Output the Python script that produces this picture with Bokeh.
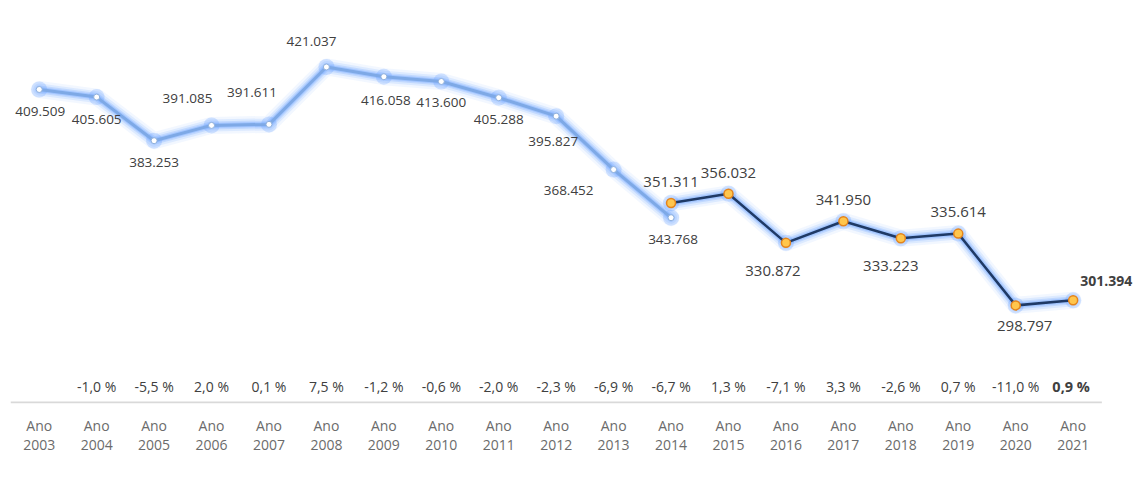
from bokeh.plotting import figure
from bokeh.models import Range1d, FixedTicker, ColumnDataSource, LabelSet
from bokeh.core.properties import value
from bokeh.embed import file_html
from bokeh.resources import INLINE

# ---- data ----
years = [2003, 2004, 2005, 2006, 2007, 2008, 2009, 2010, 2011, 2012, 2013,
         2014, 2015, 2016, 2017, 2018, 2019, 2020, 2021]
years_a = years[:12]          # 2003-2014
values_a = [409.509, 405.605, 383.253, 391.085, 391.611, 421.037, 416.058,
            413.600, 405.288, 395.827, 368.452, 343.768]
years_b = years[11:]          # 2014-2021
values_b = [351.311, 356.032, 330.872, 341.950, 333.223, 335.614, 298.797, 301.394]
pct_labels = ["", "-1,0 %", "-5,5 %", "2,0 %", "0,1 %", "7,5 %", "-1,2 %", "-0,6 %",
              "-2,0 %", "-2,3 %", "-6,9 %", "-6,7 %", "1,3 %", "-7,1 %", "3,3 %",
              "-2,6 %", "0,7 %", "-11,0 %", "0,9 %"]
tick_labels = ["Ano\n%d" % y for y in years]

# ---- label offsets (style, pixels) ----
off_a = [(1, -22), (0, -22), (0, -22), (-24, 27), (-17, 32), (-15, 25), (2, -24),
         (0, -21), (0, -22), (-3, -25), (-45, -21), (2, -22)]
off_b = [(0, 21), (0, 21), (-13, -28), (0, 21), (-10, -28), (0, 22), (9, -21), (33, 19)]

FONT = value("Open Sans")
W, H = 1140, 478
frame_left, frame_w = 10, 1128
frame_top, frame_h = 10, 393
n = len(years)
x_end = -0.5 + frame_w / 57.44

p = figure(width=W, height=H, output_backend="svg", toolbar_location=None,
           x_range=Range1d(-0.5, x_end), y_range=Range1d(248.5, 450),
           min_border_left=frame_left, min_border_right=W - frame_left - frame_w,
           min_border_top=frame_top, min_border_bottom=H - frame_top - frame_h)
p.outline_line_color = None
p.grid.visible = False
p.yaxis.visible = False
p.background_fill_color = "white"

# axis baseline over the category span only
p.segment(x0=[-0.5], y0=[249.0], x1=[n - 0.5], y1=[249.0],
          line_color="#d9d9d9", line_width=2)

idx_a = [years.index(y) for y in years_a]
idx_b = [years.index(y) for y in years_b]

glow = "#5f9cff"
for xs, ys in ((idx_a, values_a), (idx_b, values_b)):
    for w, a in ((17, 0.08), (12, 0.14), (8, 0.22), (5, 0.3)):
        p.line(xs, ys, line_width=w, line_color=glow, line_alpha=a,
               line_join="round", line_cap="round")
    p.scatter(xs, ys, size=16, fill_color=glow, fill_alpha=0.25, line_color=None)

p.line(idx_a, values_a, line_width=3, line_color="#7ea9e6", line_join="round")
p.scatter(idx_a, values_a, size=6, fill_color="white", line_color="#8fb0dc", line_width=1)

p.line(idx_b, values_b, line_width=2.5, line_color="#1f3a66", line_join="round")
p.scatter(idx_b, values_b, size=9, fill_color="#ffc64d", line_color="#e4841c", line_width=1.5)

# data labels
src_a = ColumnDataSource(dict(x=idx_a, y=values_a,
                              t=["%.3f" % v for v in values_a],
                              dx=[o[0] for o in off_a], dy=[o[1] for o in off_a]))
p.add_layout(LabelSet(x="x", y="y", text="t", source=src_a, x_offset="dx", y_offset="dy",
                      text_align="center", text_baseline="middle",
                      text_font=FONT, text_font_size="13.5px", text_color="#404040"))
src_b = ColumnDataSource(dict(x=idx_b[:-1], y=values_b[:-1],
                              t=["%.3f" % v for v in values_b[:-1]],
                              dx=[o[0] for o in off_b[:-1]], dy=[o[1] for o in off_b[:-1]]))
p.add_layout(LabelSet(x="x", y="y", text="t", source=src_b, x_offset="dx", y_offset="dy",
                      text_align="center", text_baseline="middle",
                      text_font=FONT, text_font_size="15px", text_color="#404040"))
src_b2 = ColumnDataSource(dict(x=idx_b[-1:], y=values_b[-1:],
                               t=["%.3f" % v for v in values_b[-1:]],
                               dx=[o[0] for o in off_b[-1:]], dy=[o[1] for o in off_b[-1:]]))
p.add_layout(LabelSet(x="x", y="y", text="t", source=src_b2, x_offset="dx", y_offset="dy",
                      text_align="center", text_baseline="middle",
                      text_font=FONT, text_font_size="14px", text_font_style="bold",
                      text_color="#404040"))

# percent labels
src_p = ColumnDataSource(dict(x=list(range(n - 1)), y=[248.5] * (n - 1), t=pct_labels[:-1]))
p.add_layout(LabelSet(x="x", y="y", text="t", source=src_p, y_offset=17,
                      text_align="center", text_baseline="middle",
                      text_font=FONT, text_font_size="14px", text_color="#404040"))
src_p2 = ColumnDataSource(dict(x=[n - 1], y=[248.5], t=pct_labels[-1:]))
p.add_layout(LabelSet(x="x", y="y", text="t", source=src_p2, y_offset=17, x_offset=-2,
                      text_align="center", text_baseline="middle",
                      text_font=FONT, text_font_size="14.5px", text_font_style="bold",
                      text_color="#404040"))

# x axis (labels only)
p.xaxis.ticker = FixedTicker(ticks=list(range(n)))
p.xaxis.major_label_overrides = {i: tick_labels[i] for i in range(n)}
p.xaxis.major_tick_line_color = None
p.xaxis.minor_tick_line_color = None
p.xaxis.axis_line_color = None
p.xaxis.major_label_standoff = 6
p.xaxis.major_label_text_font = "Open Sans"
p.xaxis.major_label_text_font_size = "14px"
p.xaxis.major_label_text_color = "#6b6b6b"
p.xaxis.major_label_text_line_height = 1.0

open("out.html", "w").write(file_html(p, INLINE))
